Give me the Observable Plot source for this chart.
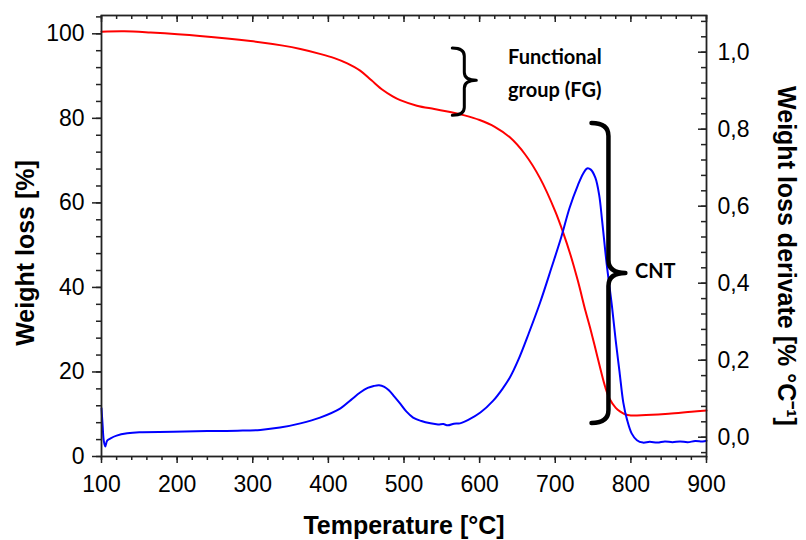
<!DOCTYPE html>
<html><head><meta charset="utf-8">
<script src="https://cdn.jsdelivr.net/npm/d3@7"></script>
<script src="https://cdn.jsdelivr.net/npm/@observablehq/plot@0.6"></script>
<style>html,body{margin:0;padding:0;background:#fff;}</style>
</head><body><div id="chart"></div>
<script>
// Weight loss (%) vs temperature (°C) — red, left axis
const tempWeight = [100,130,165,230,297,340,363,390,407,425,442,457,472,485,495,517,540,561,580,600,620,640,660,680,700,710,720,730,740,746,752,760,766,772,780,786,792,800,820,850,880,900];
const weightLoss = [100.5,100.6,100.3,99.5,98.3,97.2,96.4,95.2,94.3,93.0,91.3,89.0,86.7,85.2,84.3,83.0,82.2,81.5,80.7,79.6,78.0,75.5,71.5,65.8,58.0,53.2,47.8,41.5,34.4,30.5,26.3,20.5,16.5,13.6,11.5,10.6,10.0,9.7,9.8,10.1,10.6,10.9];
// Weight loss derivative (% °C^-1) — blue, right axis
const tempDeriv = [100,101.5,103,105,107.5,112,120,134,150,195,240,280,310,336,363,389,416,430,442,452,460,467,474,480,487,495,503,512,523,535,545,552,558,566,574,585,601,618,630,640,651,665,680,695,708,719,730,737,742,747,753,758,762,768,775,780,785,790,795,801,808,816,825,835,845,855,865,875,885,895,900];
const derivative = [0.075,0.03,-0.009,-0.024,-0.009,-0.003,0.004,0.010,0.013,0.014,0.016,0.017,0.019,0.025,0.036,0.051,0.075,0.097,0.116,0.128,0.133,0.135,0.131,0.122,0.106,0.087,0.067,0.051,0.042,0.036,0.033,0.034,0.031,0.035,0.036,0.045,0.064,0.095,0.125,0.155,0.2,0.27,0.35,0.44,0.52,0.596,0.655,0.685,0.698,0.695,0.674,0.63,0.562,0.45,0.34,0.25,0.17,0.09,0.045,0.01,-0.008,-0.014,-0.012,-0.014,-0.011,-0.013,-0.011,-0.013,-0.010,-0.011,-0.009];

// Axes
const xDomain = [100, 900];
const leftDomain = [0, 104.33];
const rightDomain = [-0.0501, 1.0953];
const xMajor = [100,200,300,400,500,600,700,800,900];
const xMinor = d3.range(100, 901, 20);
const leftMajor = [0,20,40,60,80,100];
const leftMinor = d3.range(0, 105, 4);
const rightMajor = [0,0.2,0.4,0.6,0.8,1.0];
const rightMinor = d3.range(-0.04, 1.09, 0.04);

// Texts
const xTitle = ["Temperature [°C]"];
const yLeftTitle = ["Weight loss [%]"];
const yRightTitle = ["Weight loss derivate [% °C⁻¹]"];
const annotLabels = ["Functional", "group (FG)", "CNT"];
const annotT = [637.6, 637.6, 805.4];
const annotW = [94.3, 86.6, 43.8];

// Braces (data coordinates)
const braceLeftT = [564.5, 748.6];
const braceSpineT = [580.4, 771.0];
const braceTipT = [596.3, 793.4];
const braceTopW = [96.5, 78.8];
const braceMidW = [88.9, 43.3];
const braceBottomW = [80.6, 7.8];

const toLeft = d => (d - rightDomain[0]) / (rightDomain[1] - rightDomain[0]) * (leftDomain[1] - leftDomain[0]) + leftDomain[0];

const redData = tempWeight.map((t, i) => ({t, v: weightLoss[i]}));
const blueData = tempDeriv.map((t, i) => ({t, v: toLeft(derivative[i])}));
const annotData = annotLabels.map((s, i) => ({s, t: annotT[i], w: annotW[i]}));
const braces = braceLeftT.map((_, i) => ({xl: braceLeftT[i], xs: braceSpineT[i], xt: braceTipT[i], y1: braceTopW[i], ym: braceMidW[i], y2: braceBottomW[i]}));
const braceWidths = [3, 4.5];
const braceRadius = [8, 13];

const W = 806, H = 540;
const mL = 101, mR = 100, mT = 15, mB = 84;
const frameW = W - mL - mR, frameH = H - mT - mB;

function braceMark(index, scales) {
  const g = d3.create("svg:g");
  braces.forEach((b, i) => {
    const xl = scales.x(b.xl), xs = scales.x(b.xs), xt = scales.x(b.xt);
    const y1 = scales.y(b.y1), ym = scales.y(b.ym), y2 = scales.y(b.y2);
    const r = braceRadius[i];
    const d = `M${xl},${y1}Q${xs},${y1} ${xs},${y1 + r}L${xs},${ym - r}Q${xs},${ym} ${xt},${ym}Q${xs},${ym} ${xs},${ym + r}L${xs},${y2 - r}Q${xs},${y2} ${xl},${y2}`;
    g.append("path").attr("d", d).attr("fill", "none").attr("stroke", "#000")
      .attr("stroke-width", braceWidths[i]).attr("stroke-linejoin", "round").attr("stroke-linecap", "round");
  });
  return g.node();
}

const fontTick = 23, fontTitle = 25;

const chart = Plot.plot({
  width: W, height: H,
  marginLeft: mL, marginRight: mR, marginTop: mT, marginBottom: mB,
  x: {domain: xDomain, axis: null},
  y: {domain: leftDomain, axis: null},
  style: {fontFamily: "'Liberation Sans', Arial, sans-serif", background: "#fff", color: "#000"},
  marks: [
    Plot.line(redData, {x: "t", y: "v", stroke: "#ff0000", strokeWidth: 2, curve: "catmull-rom"}),
    Plot.line(blueData, {x: "t", y: "v", stroke: "#0000ff", strokeWidth: 2, curve: "catmull-rom"}),
    braceMark,
    Plot.text(annotData, {x: "t", y: "w", text: "s", textAnchor: "start", fontSize: 20, fontWeight: "bold", fontFamily: "Lato, 'Open Sans', sans-serif", fill: "#000"}),
    Plot.frame({stroke: "#222", strokeWidth: 1.8}),
    // bottom axis (outward)
    Plot.axisX({anchor: "bottom", ticks: xMinor, tickSize: 4, tickFormat: () => "", stroke: "#222", strokeWidth: 1.5, label: null}),
    Plot.axisX({anchor: "bottom", ticks: xMajor, tickSize: 7, tickPadding: 12, fontSize: fontTick, stroke: "#222", strokeWidth: 1.5, fill: "#000", label: null}),
    // top ticks (inward)
    Plot.tickX(xMinor, {x: d => d, insetBottom: frameH - 4, stroke: "#222", strokeWidth: 1.5}),
    Plot.tickX(xMajor, {x: d => d, insetBottom: frameH - 7, stroke: "#222", strokeWidth: 1.5}),
    // left axis (outward)
    Plot.axisY({anchor: "left", ticks: leftMinor, tickSize: 5, tickFormat: () => "", stroke: "#222", strokeWidth: 1.5, label: null}),
    Plot.axisY({anchor: "left", ticks: leftMajor, tickSize: 9, tickPadding: 8, fontSize: fontTick, stroke: "#222", strokeWidth: 1.5, fill: "#000", label: null}),
    // right ticks (inward) and labels
    Plot.tickY(rightMinor, {y: d => toLeft(d), insetLeft: frameW - 5, stroke: "#222", strokeWidth: 1.5}),
    Plot.tickY(rightMajor, {y: d => toLeft(d), insetLeft: frameW - 8, stroke: "#222", strokeWidth: 1.5}),
    Plot.text(rightMajor, {y: d => toLeft(d), frameAnchor: "right", dx: 11, text: d => d.toFixed(1).replace(".", ","), textAnchor: "start", fontSize: fontTick, fill: "#000"}),
    // titles
    Plot.text(xTitle, {frameAnchor: "bottom", dy: 69, textAnchor: "middle", lineAnchor: "middle", fontSize: fontTitle, fontWeight: "bold", fill: "#000"}),
    Plot.text(yLeftTitle, {frameAnchor: "left", dx: -76, dy: 17, rotate: -90, textAnchor: "middle", lineAnchor: "middle", fontSize: fontTitle, fontWeight: "bold", fill: "#000"}),
    Plot.text(yRightTitle, {frameAnchor: "right", dx: 79, dy: 20, rotate: 90, textAnchor: "middle", lineAnchor: "middle", fontSize: fontTitle, fontWeight: "bold", fill: "#000"})
  ]
});
document.getElementById("chart").appendChild(chart);
</script>
</body></html>
